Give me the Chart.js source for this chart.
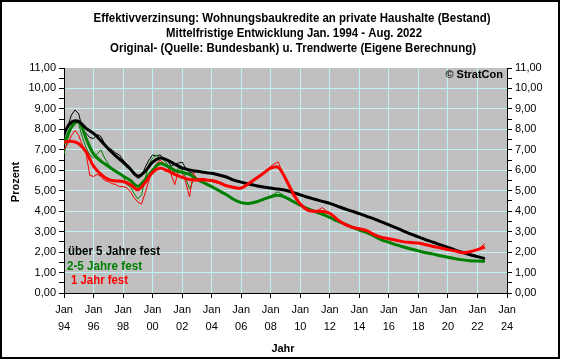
<!DOCTYPE html>
<html>
<head>
<meta charset="utf-8">
<script src="https://cdn.jsdelivr.net/npm/chart.js@4"></script>
<style>
  html, body { margin: 0; padding: 0; background: #fff; }
  canvas { display: block; }
</style>
</head>
<body>
<canvas id="chart" width="563" height="361"></canvas>
<script>
// x tick labels (Jan of every second year)
const xTickYears = ["94", "96", "98", "00", "02", "04", "06", "08", "10", "12", "14", "16", "18", "20", "22", "24"];

// trend values, half-yearly 1994.0 .. 2022.5
const trendYears = [
  1994, 1994.5, 1995, 1995.5, 1996, 1996.5, 1997, 1997.5, 1998, 1998.5,
  1999, 1999.5, 2000, 2000.5, 2001, 2001.5, 2002, 2002.5, 2003, 2003.5,
  2004, 2004.5, 2005, 2005.5, 2006, 2006.5, 2007, 2007.5, 2008, 2008.5,
  2009, 2009.5, 2010, 2010.5, 2011, 2011.5, 2012, 2012.5, 2013, 2013.5,
  2014, 2014.5, 2015, 2015.5, 2016, 2016.5, 2017, 2017.5, 2018, 2018.5,
  2019, 2019.5, 2020, 2020.5, 2021, 2021.5, 2022, 2022.5
];
const trendOver5 = [
  7.85, 8.35, 8.38, 8.05, 7.8, 7.45, 7.05, 6.7, 6.4, 6.05,
  5.72, 5.95, 6.4, 6.6, 6.5, 6.3, 6.12, 6.02, 5.95, 5.9,
  5.85, 5.77, 5.67, 5.52, 5.42, 5.33, 5.25, 5.18, 5.13, 5.08,
  5.02, 4.92, 4.8, 4.68, 4.58, 4.48, 4.38, 4.25, 4.12, 4.0,
  3.88, 3.75, 3.62, 3.48, 3.33, 3.18, 3.03, 2.88, 2.74, 2.6,
  2.48, 2.35, 2.23, 2.1, 1.98, 1.87, 1.78, 1.68
];
const trend2to5 = [
  7.3, 8.1, 8.38, 7.55, 6.8, 6.45, 6.2, 5.95, 5.72, 5.5,
  5.22, 5.55, 6.0, 6.33, 6.2, 6.0, 5.9, 5.8, 5.55, 5.38,
  5.2, 5.0, 4.8, 4.57, 4.42, 4.38, 4.45, 4.58, 4.7, 4.78,
  4.68, 4.48, 4.3, 4.12, 3.98, 3.85, 3.7, 3.52, 3.38, 3.22,
  3.08, 2.95, 2.78, 2.6, 2.48, 2.35, 2.25, 2.15, 2.06, 1.97,
  1.9, 1.82, 1.75, 1.68, 1.62, 1.58, 1.56, 1.55
];
const trend1yr = [
  7.38, 7.42, 7.3, 6.9, 6.2, 5.8, 5.55, 5.48, 5.45, 5.3,
  5.05, 5.4, 5.9, 6.1, 5.98, 5.8, 5.65, 5.55, 5.52, 5.53,
  5.5, 5.4, 5.25, 5.17, 5.13, 5.35, 5.6, 5.85, 6.1, 6.15,
  5.6, 4.9, 4.35, 4.05, 4.0, 3.98, 3.9, 3.6, 3.37, 3.22,
  3.14, 3.05, 2.85, 2.72, 2.65, 2.58, 2.5, 2.47, 2.44, 2.36,
  2.27, 2.2, 2.12, 2.05, 1.97, 2.02, 2.12, 2.25
];

// original values: quarterly 1994.0 .. 2003.0, then half-yearly to 2022.5
const origYears = [
  1994, 1994.25, 1994.5, 1994.75, 1995, 1995.25, 1995.5, 1995.75,
  1996, 1996.25, 1996.5, 1996.75, 1997, 1997.25, 1997.5, 1997.75,
  1998, 1998.25, 1998.5, 1998.75, 1999, 1999.25, 1999.5, 1999.75,
  2000, 2000.25, 2000.5, 2000.75, 2001, 2001.25, 2001.5, 2001.75,
  2002, 2002.25, 2002.5, 2002.75, 2003,
  2003.5, 2004, 2004.5, 2005, 2005.5, 2006, 2006.5, 2007, 2007.5, 2008,
  2008.5, 2009, 2009.5, 2010, 2010.5, 2011, 2011.5, 2012, 2012.5, 2013,
  2013.5, 2014, 2014.5, 2015, 2015.5, 2016, 2016.5, 2017, 2017.5, 2018,
  2018.5, 2019, 2019.5, 2020, 2020.5, 2021, 2021.5, 2022, 2022.5
];
const origOver5 = [
  7.6, 8.1, 8.7, 8.95, 8.75, 8.0, 7.8, 7.6,
  7.55, 7.75, 7.65, 7.3, 7.1, 7.0, 6.85, 6.75,
  6.5, 6.3, 6.15, 5.8, 5.6, 5.7, 6.15, 6.5,
  6.75, 6.7, 6.75, 6.6, 6.5, 6.2, 6.3, 6.35,
  6.4, 6.1, 5.9, 5.85, 6.0,
  5.9, 5.85, 5.77, 5.67, 5.52, 5.42, 5.33, 5.25, 5.18, 5.13,
  5.08, 5.02, 4.92, 4.8, 4.68, 4.58, 4.48, 4.38, 4.25, 4.12,
  4.0, 3.88, 3.75, 3.62, 3.48, 3.33, 3.18, 3.03, 2.88, 2.74,
  2.6, 2.48, 2.35, 2.23, 2.1, 1.98, 1.87, 1.78, 1.68
];
const orig2to5 = [
  6.8, 7.5, 8.1, 8.45, 8.25, 7.6, 7.1, 6.75,
  6.6, 6.8, 7.0, 6.6, 6.3, 6.1, 6.0, 5.9,
  5.7, 5.3, 5.2, 4.85, 4.6, 4.8, 5.6, 6.3,
  6.6, 6.75, 6.6, 6.5, 6.3, 5.95, 5.9, 6.1,
  6.05, 5.6, 5.1, 5.5, 5.6,
  5.4, 5.2, 5.0, 4.8, 4.55, 4.4, 4.38, 4.45, 4.6, 4.75,
  4.95, 4.7, 4.45, 4.3, 4.12, 3.98, 3.85, 3.7, 3.52, 3.38,
  3.22, 3.08, 2.95, 2.78, 2.6, 2.48, 2.35, 2.25, 2.15, 2.06,
  1.97, 1.9, 1.82, 1.75, 1.68, 1.62, 1.58, 1.56, 1.55
];
const orig1yr = [
  7.0, 7.3, 7.7, 7.95, 7.7, 7.2, 6.8, 5.75,
  5.7, 5.8, 5.7, 5.5, 5.45, 5.35, 5.3, 5.2,
  5.2, 5.15, 4.95, 4.65, 4.45, 4.35, 4.9, 5.5,
  6.0, 6.3, 6.5, 6.35, 6.2, 5.8, 5.3, 6.0,
  5.9, 5.4, 4.7, 5.85, 5.6,
  5.6, 5.45, 5.35, 5.2, 5.1, 5.1, 5.3, 5.55, 5.85, 6.2,
  6.42, 5.5, 4.75, 4.3, 4.0, 3.95, 4.18, 3.85, 3.6, 3.35,
  3.18, 3.15, 3.08, 2.85, 2.75, 2.65, 2.6, 2.5, 2.48, 2.45,
  2.35, 2.28, 2.2, 2.1, 2.05, 1.95, 2.05, 2.1, 2.42
];

const toPoints = (xs, ys) => xs.map((x, i) => ({ x, y: ys[i] }));
const fmt = (v) => v.toFixed(2).replace(".", ",");

const gridColor = "#c0f4f4";
const fontFamily = "Arial, 'Liberation Sans', sans-serif";

const frame = {
  id: "frame",
  beforeDraw(chart) {
    const { ctx, chartArea: a } = chart;
    ctx.save();
    ctx.fillStyle = "#fff";
    ctx.fillRect(0, 0, chart.width, chart.height);
    ctx.fillStyle = "#c0c0c0";
    ctx.fillRect(a.left, a.top, a.right - a.left, a.bottom - a.top);
    ctx.restore();
  },
  afterDraw(chart) {
    const { ctx } = chart;
    ctx.save();
    ctx.strokeStyle = "#000";
    ctx.lineWidth = 2;
    ctx.strokeRect(1, 1, 558, 357);

    ctx.fillStyle = "#000";
    ctx.textAlign = "center";
    ctx.textBaseline = "alphabetic";
    ctx.font = "bold 12px " + fontFamily;
    ctx.fillText("Effektivverzinsung: Wohnungsbaukredite an private Haushalte (Bestand)", 292, 22, 397);
    ctx.fillText("Mittelfristige Entwicklung Jan. 1994 - Aug. 2022", 294, 37, 256);
    ctx.fillText("Original- (Quelle: Bundesbank) u. Trendwerte (Eigene Berechnung)", 293, 52, 366);

    ctx.font = "bold 11px " + fontFamily;
    ctx.textBaseline = "middle";
    ctx.fillText("Jahr", 283, 349);
    ctx.save();
    ctx.translate(16, 182);
    ctx.rotate(-Math.PI / 2);
    ctx.fillText("Prozent", 0, 0);
    ctx.restore();

    ctx.textAlign = "right";
    ctx.fillText("\u00a9 StratCon", 503, 75);

    ctx.textAlign = "left";
    ctx.font = "bold 12px " + fontFamily;
    ctx.fillStyle = "#000";
    ctx.fillText("über 5 Jahre fest", 68, 252, 92);
    ctx.fillStyle = "#008000";
    ctx.fillText("2-5 Jahre fest", 67, 267, 75);
    ctx.fillStyle = "#ff0000";
    ctx.fillText("1 Jahr fest", 71, 281, 57);
    ctx.restore();
  },
};

const yAxis = (position, width) => ({
  type: "linear",
  position,
  min: 0,
  max: 11,
  afterFit: (scale) => { scale.width = width; },
  grid: {
    color: (c) => (c.tick && c.tick.value % 1 === 0 && c.tick.value < 11 ? gridColor : "rgba(0,0,0,0)"),
    tickColor: "#000",
    tickLength: 5,
    drawOnChartArea: true,
  },
  border: { color: "#000", width: 1 },
  ticks: {
    stepSize: 0.5,
    autoSkip: false,
    color: "#000",
    padding: 3,
    font: { family: fontFamily, size: 11 },
    callback: (v) => (v % 1 === 0 ? fmt(v) : ""),
  },
});

const line = (label, xs, ys, color, width, order, tension) => ({
  label,
  data: toPoints(xs, ys),
  borderColor: color,
  borderWidth: width,
  pointRadius: 0,
  tension,
  order,
  fill: false,
});

new Chart(document.getElementById("chart"), {
  type: "line",
  data: {
    datasets: [
      line("1 Jahr fest (Trend)", trendYears, trend1yr, "#ff0000", 3, 1, 0.35),
      line("über 5 Jahre fest (Trend)", trendYears, trendOver5, "#000000", 3, 2, 0.35),
      line("2-5 Jahre fest (Trend)", trendYears, trend2to5, "#008000", 3, 3, 0.35),
      line("1 Jahr fest", origYears, orig1yr, "#ff0000", 1, 4, 0),
      line("2-5 Jahre fest", origYears, orig2to5, "#008000", 1, 5, 0),
      line("über 5 Jahre fest", origYears, origOver5, "#000000", 1, 6, 0),
    ],
  },
  options: {
    responsive: false,
    animation: false,
    devicePixelRatio: 1,
    layout: { padding: { top: 68, left: 0, right: 0, bottom: 0 } },
    scales: {
      x: {
        type: "linear",
        min: 1994,
        max: 2024,
        afterFit: (scale) => { scale.height = 68; },
        grid: {
          color: gridColor,
          tickColor: "#000",
          tickLength: 5,
        },
        border: { color: "#000", width: 1 },
        ticks: {
          stepSize: 2,
          autoSkip: false,
          maxRotation: 0,
          color: "#000",
          padding: 4,
          font: { family: fontFamily, size: 11, lineHeight: 1.5 },
          callback: (v) => ["Jan", xTickYears[Math.round((v - 1994) / 2)]],
        },
      },
      y: yAxis("left", 64),
      y2: yAxis("right", 56),
    },
    plugins: {
      legend: { display: false },
      title: { display: false },
      tooltip: { enabled: false },
    },
  },
  plugins: [frame],
});
</script>
</body>
</html>
